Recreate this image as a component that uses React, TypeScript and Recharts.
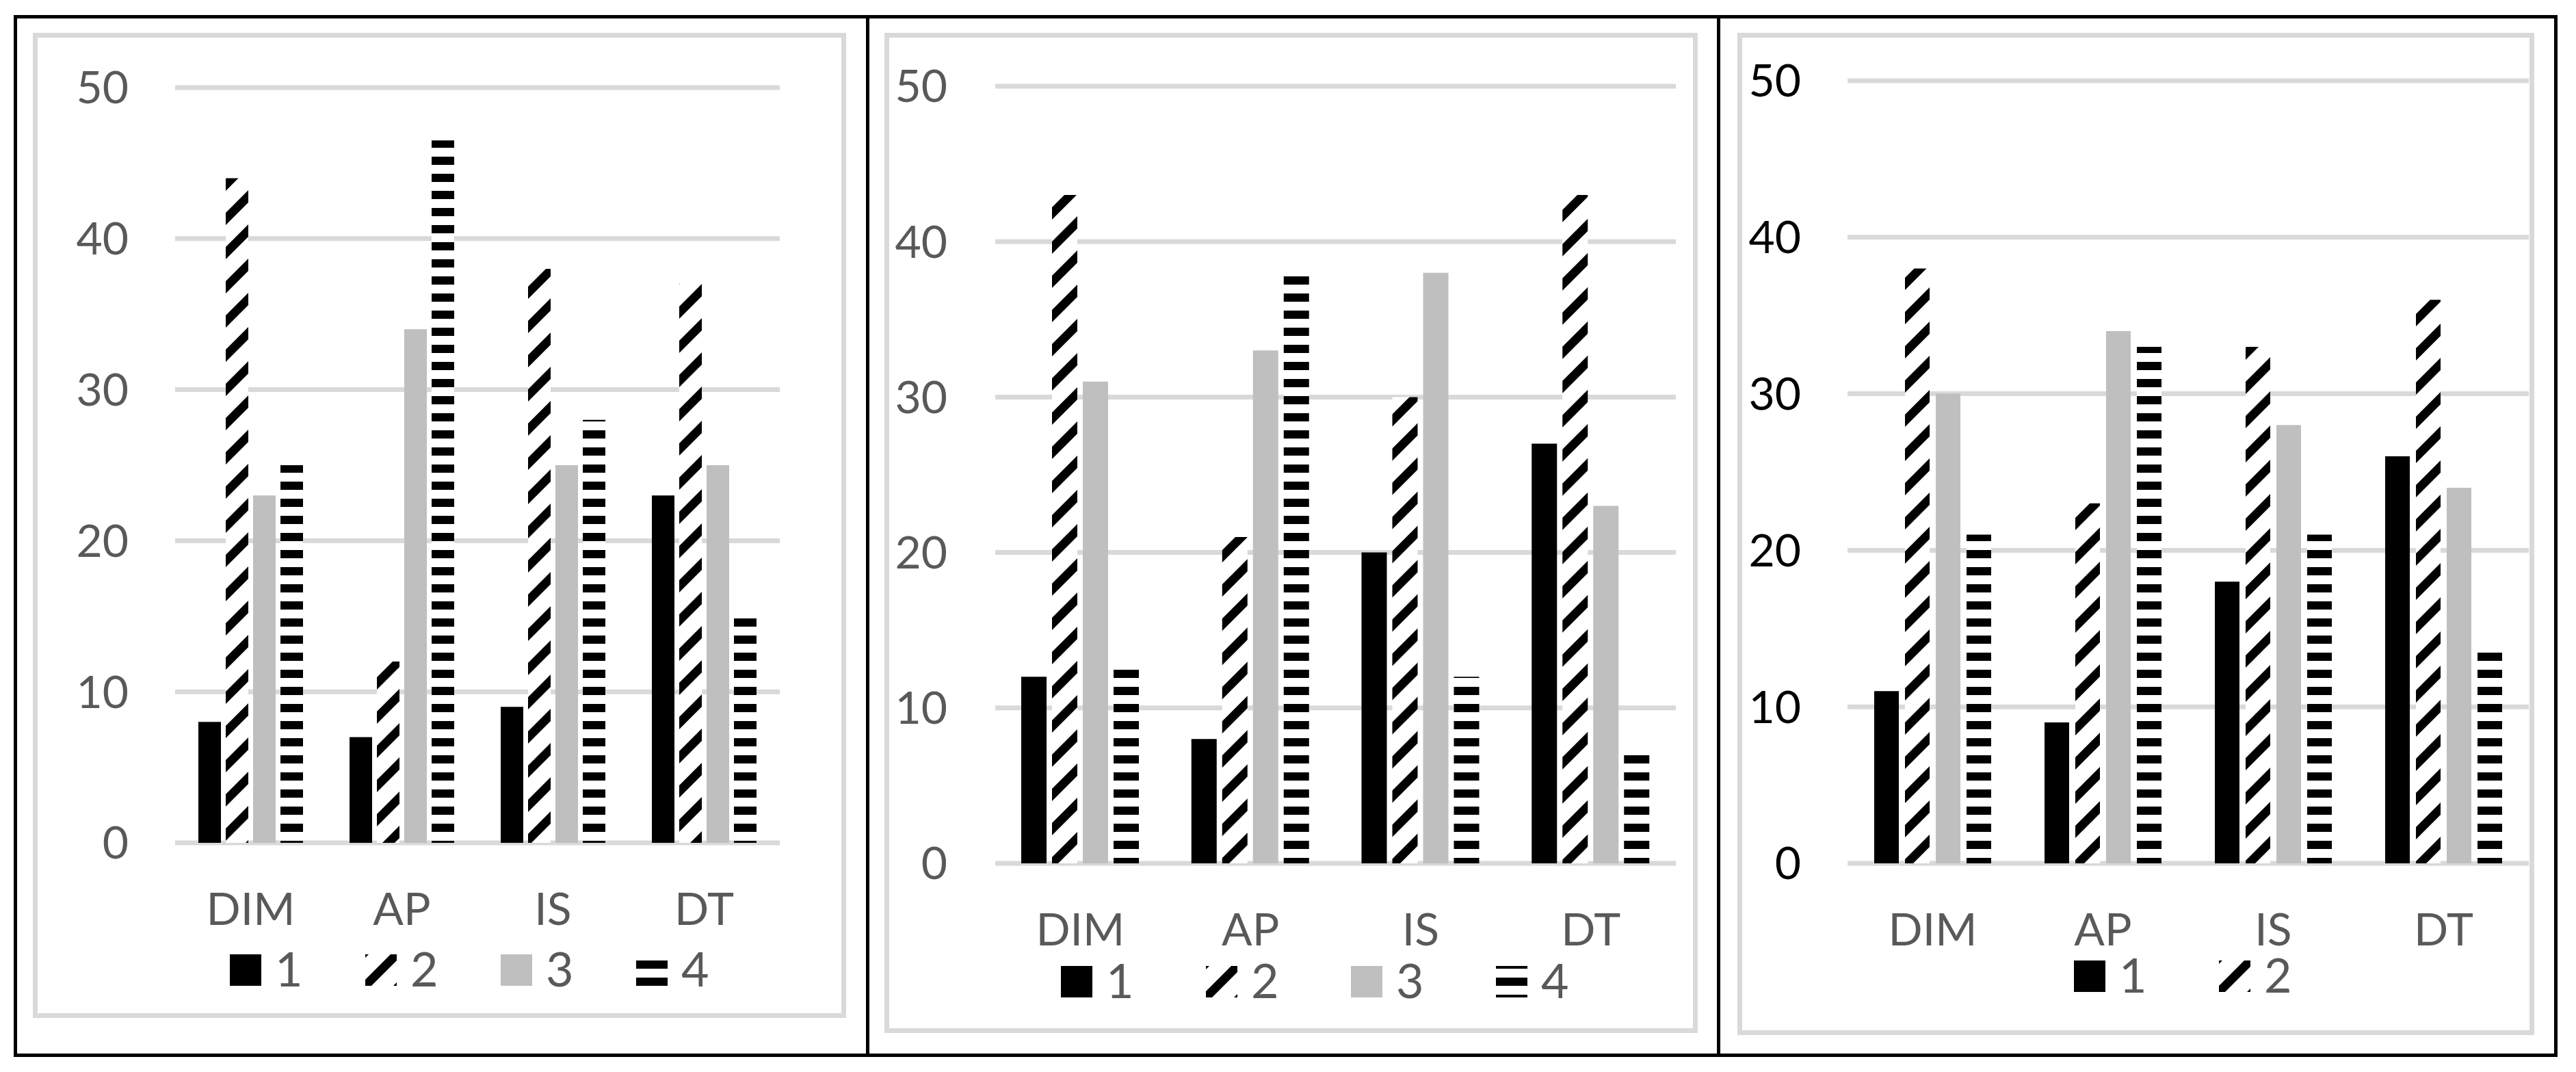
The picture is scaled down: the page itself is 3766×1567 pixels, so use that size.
import React from "react";
import { BarChart, Bar, XAxis, YAxis, CartesianGrid, Legend } from "recharts";

const CATEGORIES = ["DIM", "AP", "IS", "DT"];
const Y_TICKS = [0, 10, 20, 30, 40, 50];

// left chart
const LEFT_S1 = [8, 7, 9, 23];
const LEFT_S2 = [44, 12, 38, 37];
const LEFT_S3 = [23, 34, 25, 25];
const LEFT_S4 = [25, 46.5, 28, 15];

// middle chart
const MID_S1 = [12, 8, 20, 27];
const MID_S2 = [43, 21, 30, 43];
const MID_S3 = [31, 33, 38, 23];
const MID_S4 = [12.5, 38, 12, 7];

// right chart
const RIGHT_S1 = [11, 9, 18, 26];
const RIGHT_S2 = [38, 23, 33, 36];
const RIGHT_S3 = [30, 34, 28, 24];
const RIGHT_S4 = [21, 33, 21, 14];

const FONT = "Lato, 'Open Sans', sans-serif";
const TEXT_GRAY = "#595959";
const GRID_GRAY = "#d9d9d9";
const BAR_GRAY = "#bfbfbf";

// legend row: svg is taller than the icon so the text never gets clipped
const LEG_H = 100;
const LEG_ICON_Y = 27;

const mod = (a: number, m: number) => ((a % m) + m) % m;

type PanelCfg = {
  id: string;
  box: { left: number; top: number; width: number; height: number };
  margin: { top: number; right: number; bottom: number; left: number };
  yWidth: number;
  yTickMargin: number;
  yTickColor: string;
  barSize: number;
  barGap: number;
  series: number[][];
  legend: { left: number; iconTop: number; pitch: number; count: number };
};

const PANELS: PanelCfg[] = [
  {
    id: "p1",
    box: { left: 48, top: 48, width: 1189, height: 1440 },
    margin: { top: 80, right: 97, bottom: 156, left: 0 },
    yWidth: 208,
    yTickMargin: 68,
    yTickColor: TEXT_GRAY,
    barSize: 33,
    barGap: 7,
    series: [LEFT_S1, LEFT_S2, LEFT_S3, LEFT_S4],
    legend: { left: 288, iconTop: 1347, pitch: 198, count: 4 },
  },
  {
    id: "p2",
    box: { left: 1293, top: 48, width: 1189, height: 1462 },
    margin: { top: 78, right: 32, bottom: 148, left: 0 },
    yWidth: 162,
    yTickMargin: 70,
    yTickColor: TEXT_GRAY,
    barSize: 37,
    barGap: 8,
    series: [MID_S1, MID_S2, MID_S3, MID_S4],
    legend: { left: 258, iconTop: 1364, pitch: 212, count: 4 },
  },
  {
    id: "p3",
    box: { left: 2540, top: 48, width: 1165, height: 1465 },
    margin: { top: 70, right: 8, bottom: 151, left: 0 },
    yWidth: 161,
    yTickMargin: 68,
    yTickColor: "#000000",
    barSize: 36,
    barGap: 9,
    series: [RIGHT_S1, RIGHT_S2, RIGHT_S3, RIGHT_S4],
    legend: { left: 492, iconTop: 1356, pitch: 212, count: 2 },
  },
];

// ox/oy = page position of the svg, keeps the hatching in phase across charts
function Patterns({ id, ox, oy }: { id: string; ox: number; oy: number }) {
  return (
    <defs>
      <pattern
        id={`diag-${id}`}
        patternUnits="userSpaceOnUse"
        x={-mod(ox + oy, 50)}
        y={0}
        width={50}
        height={50}
      >
        <rect width={50} height={50} fill="#fff" />
        <polygon points="0,41 41,0 50,0 50,9 9,50 0,50" fill="#000" />
        <polygon points="0,0 9,0 0,9" fill="#000" />
        <polygon points="50,41 50,50 41,50" fill="#000" />
      </pattern>
      <pattern
        id={`hstripe-${id}`}
        patternUnits="userSpaceOnUse"
        x={0}
        y={mod(4 - oy, 25)}
        width={50}
        height={25}
      >
        <rect width={50} height={25} fill="#fff" />
        <rect width={50} height={12} fill="#000" />
      </pattern>
    </defs>
  );
}

function makeLegend(cfg: PanelCfg) {
  const svgPageTop = cfg.box.top + cfg.legend.iconTop - LEG_ICON_Y;
  return (props: any) => {
    const items = (props.payload || []).slice(0, cfg.legend.count);
    return (
      <div style={{ position: "relative", height: LEG_H }}>
        {items.map((entry: any, i: number) => {
          const key = String(entry.dataKey);
          const pid = `leg-${cfg.id}-${key}`;
          let fill = entry.color;
          if (key === "s2" || key === "s4") fill = `url(#${pid})`;
          return (
            <svg
              key={key}
              width={cfg.legend.pitch}
              height={LEG_H}
              style={{ position: "absolute", left: i * cfg.legend.pitch, top: 0 }}
            >
              <defs>
                {key === "s2" && (
                  <pattern
                    id={pid}
                    patternUnits="userSpaceOnUse"
                    x={mod(46 + LEG_ICON_Y, 50)}
                    y={0}
                    width={50}
                    height={50}
                  >
                    <rect width={50} height={50} fill="#fff" />
                    <polygon points="0,41 41,0 50,0 50,9 9,50 0,50" fill="#000" />
                    <polygon points="0,0 9,0 0,9" fill="#000" />
                    <polygon points="50,41 50,50 41,50" fill="#000" />
                  </pattern>
                )}
                {key === "s4" && (
                  <pattern
                    id={pid}
                    patternUnits="userSpaceOnUse"
                    x={0}
                    y={mod(4 - svgPageTop, 25)}
                    width={50}
                    height={25}
                  >
                    <rect width={50} height={25} fill="#fff" />
                    <rect width={50} height={12} fill="#000" />
                  </pattern>
                )}
              </defs>
              <rect x={0} y={LEG_ICON_Y} width={46} height={46} fill={fill} />
              <text
                x={66}
                y={LEG_ICON_Y + 47}
                fontSize={70}
                fontFamily={FONT}
                fill={TEXT_GRAY}
              >
                {entry.value}
              </text>
            </svg>
          );
        })}
      </div>
    );
  };
}

function Panel({ cfg }: { cfg: PanelCfg }) {
  const { left, top, width, height } = cfg.box;
  const data = CATEGORIES.map((cat, i) => ({
    cat,
    s1: cfg.series[0][i],
    s2: cfg.series[1][i],
    s3: cfg.series[2][i],
    s4: cfg.series[3][i],
  }));
  const hideExtra = cfg.legend.count < 4;
  return (
    <div style={{ position: "absolute", left, top, width, height }}>
      <BarChart
        width={width}
        height={height}
        data={data}
        margin={cfg.margin}
        barSize={cfg.barSize}
        barGap={cfg.barGap}
      >
        <Patterns id={cfg.id} ox={left} oy={top} />
        <CartesianGrid vertical={false} stroke={GRID_GRAY} strokeWidth={7} />
        <XAxis
          dataKey="cat"
          interval={0}
          axisLine={false}
          tickLine={false}
          tickSize={0}
          tickMargin={73}
          height={100}
          tick={{ fontSize: 66, fill: TEXT_GRAY, fontFamily: FONT }}
        />
        <YAxis
          domain={[0, 50]}
          ticks={Y_TICKS}
          axisLine={false}
          tickLine={false}
          tickSize={0}
          tickMargin={cfg.yTickMargin}
          width={cfg.yWidth}
          tick={{ fontSize: 66, fill: cfg.yTickColor, fontFamily: FONT }}
        />
        <Bar dataKey="s1" name="1" fill="#000000" isAnimationActive={false} />
        <Bar dataKey="s2" name="2" fill={`url(#diag-${cfg.id})`} isAnimationActive={false} />
        <Bar
          dataKey="s3"
          name="3"
          fill={BAR_GRAY}
          legendType={hideExtra ? "none" : "square"}
          isAnimationActive={false}
        />
        <Bar
          dataKey="s4"
          name="4"
          fill={`url(#hstripe-${cfg.id})`}
          legendType={hideExtra ? "none" : "square"}
          isAnimationActive={false}
        />
        <Legend
          layout="horizontal"
          align="center"
          verticalAlign="middle"
          content={makeLegend(cfg)}
          wrapperStyle={{
            left: cfg.legend.left,
            top: cfg.legend.iconTop - LEG_ICON_Y,
            width: cfg.legend.pitch * cfg.legend.count,
            height: LEG_H,
          }}
        />
      </BarChart>
      <div
        style={{
          position: "absolute",
          left: 0,
          top: 0,
          width,
          height,
          border: `7px solid ${GRID_GRAY}`,
          boxSizing: "border-box",
          pointerEvents: "none",
        }}
      />
    </div>
  );
}

export default function App() {
  return (
    <div
      style={{
        position: "absolute",
        left: 0,
        top: 0,
        width: 3766,
        height: 1567,
        background: "#fff",
        overflow: "hidden",
      }}
    >
      {PANELS.map((p) => (
        <Panel key={p.id} cfg={p} />
      ))}
      <div
        style={{
          position: "absolute",
          left: 20,
          top: 22,
          width: 3719,
          height: 1523,
          border: "5px solid #000",
          boxSizing: "border-box",
        }}
      />
      <div style={{ position: "absolute", left: 1266, top: 22, width: 5, height: 1523, background: "#000" }} />
      <div style={{ position: "absolute", left: 2510, top: 22, width: 5, height: 1523, background: "#000" }} />
    </div>
  );
}
